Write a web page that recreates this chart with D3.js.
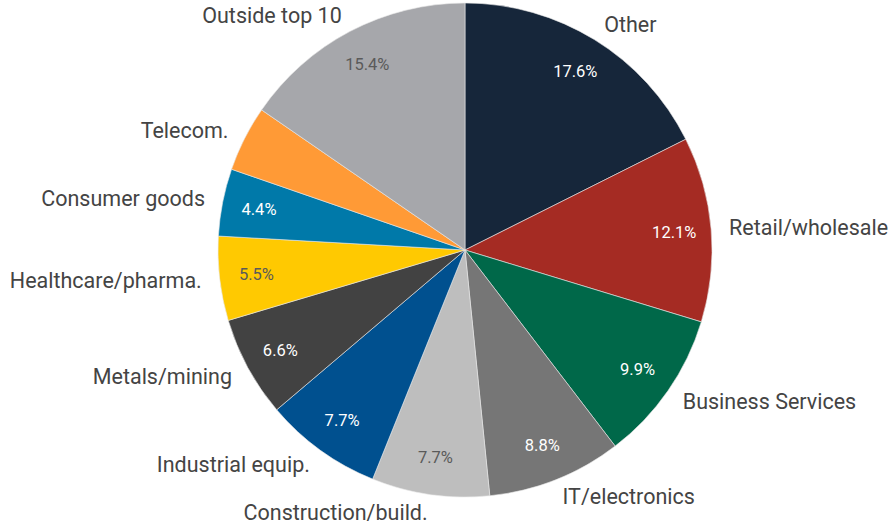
<!DOCTYPE html>
<html>
<head>
<meta charset="utf-8">
<script src="https://cdn.jsdelivr.net/npm/d3@7"></script>
<style>
  html, body { margin: 0; padding: 0; background: #fff; }
  svg { display: block; }
  text { font-family: Roboto, "Noto Sans", sans-serif; }
</style>
</head>
<body>
<svg id="chart" width="890" height="525"></svg>
<script>
const categories = ["Other", "Retail/wholesale", "Business Services", "IT/electronics",
  "Construction/build.", "Industrial equip.", "Metals/mining", "Healthcare/pharma.",
  "Consumer goods", "Telecom.", "Outside top 10"];
const values = [17.6, 12.1, 9.9, 8.8, 7.7, 7.7, 6.6, 5.5, 4.4, 4.3, 15.4];
const showPct = [true, true, true, true, true, true, true, true, true, false, true];
const colors = ["#16263a", "#a52b23", "#006849", "#767676", "#bebebe", "#00508f",
  "#424242", "#ffc901", "#0079a9", "#ff9a36", "#a6a7ab"];
const pctColors = ["#ffffff", "#ffffff", "#ffffff", "#ffffff", "#5a5a5a", "#ffffff",
  "#ffffff", "#5a5a5a", "#ffffff", "#ffffff", "#5a5a5a"];

const cx = 465, cy = 250, r = 247;
const svg = d3.select("#chart");
const g = svg.append("g").attr("transform", `translate(${cx},${cy})`);

const data = categories.map((c, i) => ({ c, v: values[i], i }));
const pie = d3.pie().sort(null).value(d => d.v);
const arcs = pie(data);
const arc = d3.arc().innerRadius(0).outerRadius(r);
const pctArc = d3.arc().innerRadius(210).outerRadius(210);
const labArc = d3.arc().innerRadius(265).outerRadius(265);

g.selectAll("path.slice").data(arcs).join("path")
  .attr("class", "slice")
  .attr("d", arc)
  .attr("fill", d => colors[d.data.i])
  .attr("stroke", "#e8e8e8")
  .attr("stroke-width", 0.6);

g.selectAll("text.pct").data(arcs.filter(d => showPct[d.data.i])).join("text")
  .attr("class", "pct")
  .attr("transform", d => `translate(${pctArc.centroid(d)})`)
  .attr("text-anchor", "middle")
  .attr("dominant-baseline", "central")
  .attr("font-size", 16.5)
  .attr("fill", d => pctColors[d.data.i])
  .text(d => d.data.v.toFixed(1) + "%");

g.selectAll("text.lab").data(arcs).join("text")
  .attr("class", "lab")
  .attr("transform", d => `translate(${labArc.centroid(d)})`)
  .attr("text-anchor", d => ((d.startAngle + d.endAngle) / 2 < Math.PI ? "start" : "end"))
  .attr("dominant-baseline", "central")
  .attr("font-size", 21.5)
  .attr("fill", "#444444")
  .text(d => d.data.c);
</script>
</body>
</html>
